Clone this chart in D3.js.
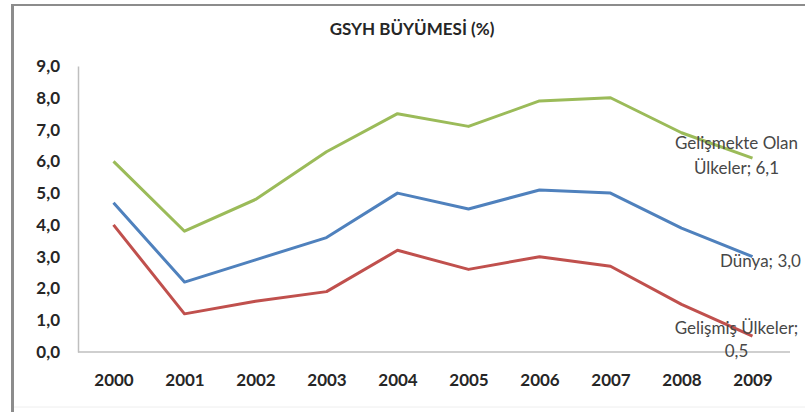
<!DOCTYPE html>
<html>
<head>
<meta charset="utf-8">
<script src="https://cdn.jsdelivr.net/npm/d3@7"></script>
<style>
  body { margin: 0; background: #fff; }
  svg { display: block; }
  text { font-family: Lato, "Open Sans", sans-serif; }
</style>
</head>
<body>
<script>
const years = ["2000", "2001", "2002", "2003", "2004", "2005", "2006", "2007", "2008", "2009"];
const gelismekte = [6.0, 3.8, 4.8, 6.3, 7.5, 7.1, 7.9, 8.0, 6.9, 6.1];
const dunya = [4.7, 2.2, 2.9, 3.6, 5.0, 4.5, 5.1, 5.0, 3.9, 3.0];
const gelismis = [4.0, 1.2, 1.6, 1.9, 3.2, 2.6, 3.0, 2.7, 1.5, 0.5];
const yTicks = [0, 1, 2, 3, 4, 5, 6, 7, 8, 9];

const width = 805;
const height = 412;

const svg = d3.select('body').append('svg').attr('width', width).attr('height', height);

// frame (picture is cropped on the right)
svg.append('line').attr('x1', 12.5).attr('x2', 12.5).attr('y1', 4).attr('y2', height)
  .attr('stroke', '#8c8c8c').attr('stroke-width', 3);
svg.append('line').attr('x1', 11).attr('x2', width).attr('y1', 5).attr('y2', 5)
  .attr('stroke', '#8c8c8c').attr('stroke-width', 2);
svg.append('line').attr('x1', 14).attr('x2', width).attr('y1', 407).attr('y2', 407)
  .attr('stroke', '#eeeeee').attr('stroke-width', 1);

const x = d3.scalePoint().domain(years).range([78, 788]).padding(0.5);
const y = d3.scaleLinear().domain([0, 9]).range([352, 66]);
const fmt = v => d3.format(".1f")(v).replace(".", ",");

svg.append('text')
  .attr('x', 412).attr('y', 35)
  .attr('text-anchor', 'middle')
  .attr('font-size', 17).attr('font-weight', 'bold').attr('fill', '#262626')
  .text('GSYH BÜYÜMESİ (%)');

// axes
const yAxis = svg.append('g').attr('transform', 'translate(78,0)')
  .call(d3.axisLeft(y).tickValues(yTicks).tickFormat(fmt).tickSize(0).tickPadding(18));
yAxis.select('.domain').attr('stroke', '#bfbfbf').attr('stroke-width', 1.5);
yAxis.selectAll('text').attr('font-size', 17).attr('font-weight', 'bold').attr('fill', '#262626')
  .attr('font-family', 'Lato, sans-serif');

const xAxis = svg.append('g').attr('transform', 'translate(0,352)')
  .call(d3.axisBottom(x).tickSize(0).tickPadding(22).tickSizeOuter(0));
xAxis.select('.domain').attr('stroke', '#bfbfbf').attr('stroke-width', 1.5)
  .attr('d', 'M78,0H790');
xAxis.selectAll('text').attr('font-size', 17).attr('font-weight', 'bold').attr('fill', '#262626')
  .attr('font-family', 'Lato, sans-serif');

const series = [
  { name: 'gelismekte', values: gelismekte, color: '#9bbb59' },
  { name: 'dunya', values: dunya, color: '#4f81bd' },
  { name: 'gelismis', values: gelismis, color: '#c0504d' }
];

const line = d3.line().x((d, i) => x(years[i])).y(d => y(d));

svg.selectAll('path.series').data(series).enter().append('path')
  .attr('class', 'series')
  .attr('d', d => line(d.values))
  .attr('fill', 'none')
  .attr('stroke', d => d.color)
  .attr('stroke-width', 3)
  .attr('stroke-linejoin', 'round');

// data labels on the last point
const lastX = x(years[years.length - 1]);
const lbl = svg.append('g').attr('font-size', 17).attr('fill', '#474747');

lbl.append('text').attr('x', lastX - 16).attr('y', y(gelismekte[9]) - 9)
  .attr('text-anchor', 'middle').text('Gelişmekte Olan');
lbl.append('text').attr('x', lastX - 16).attr('y', y(gelismekte[9]) + 16)
  .attr('text-anchor', 'middle').text('Ülkeler; ' + fmt(gelismekte[9]));
lbl.append('text').attr('x', lastX + 8).attr('y', y(dunya[9]) + 10)
  .attr('text-anchor', 'middle').text('Dünya; ' + fmt(dunya[9]));
lbl.append('text').attr('x', lastX - 16).attr('y', y(gelismis[9]) - 2)
  .attr('text-anchor', 'middle').text('Gelişmiş Ülkeler;');
lbl.append('text').attr('x', lastX - 16).attr('y', y(gelismis[9]) + 21)
  .attr('text-anchor', 'middle').text(fmt(gelismis[9]));
</script>
</body>
</html>
